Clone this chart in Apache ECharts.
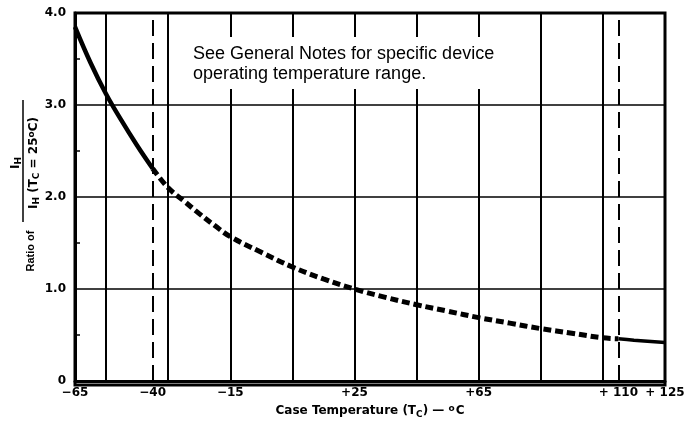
<!DOCTYPE html>
<html>
<head>
<meta charset="utf-8">
<script src="https://cdn.jsdelivr.net/npm/echarts@6/dist/echarts.min.js"></script>
<style>
  html, body { margin: 0; padding: 0; background: #fff; }
  #chart { width: 697px; height: 424px; }
</style>
</head>
<body>
<div id="chart"></div>
<script>
// Holding current ratio I_H / I_H(25 °C) versus case temperature
const temps  = [-65, -60, -55, -50, -45, -40, -35, -30, -25, -20, -15, -5, 5, 15, 25, 35, 45, 55, 65, 75, 85, 95, 105, 110, 115, 125];
const ratios = [3.85, 3.46, 3.12, 2.83, 2.56, 2.31, 2.10, 1.96, 1.82, 1.69, 1.57, 1.40, 1.24, 1.11, 1.00, 0.91, 0.83, 0.76, 0.69, 0.63, 0.57, 0.52, 0.47, 0.46, 0.445, 0.42];

// Operating range limits: curve is dashed between these, and they are drawn as dashed verticals
const limitTemps = [-40, 110];

// Vertical grid rules (°C)
const gridTemps = [-55, -35, -15, 5, 25, 45, 65, 85, 105];

// Temperature tick labels shown on the x axis
const xTickValues = [-65, -40, -15, 25, 65, 110, 125];
const xTickTexts  = ['\u221265', '\u221240', '\u221215', '+25', '+65', '+ 110', '+ 125'];

// Ratio axis
const yMin = 0, yMax = 4, yStep = 1;

const noteLines = ['See General Notes for specific device', 'operating temperature range.'];

const points = temps.map((t, i) => [t, ratios[i]]);
const lowPts  = points.filter(p => p[0] <= limitTemps[0]);
const midPts  = points.filter(p => p[0] >= limitTemps[0] && p[0] <= limitTemps[1]);
const highPts = points.filter(p => p[0] >= limitTemps[1]);

const chart = echarts.init(document.getElementById('chart'), null, { renderer: 'canvas' });

const boldFont = 'DejaVu Sans';
const gridL = 75, gridR = 665, gridT = 13, gridB = 385;

chart.setOption({
  animation: false,
  backgroundColor: '#fff',
  grid: { left: gridL, right: 697 - gridR, top: gridT, bottom: 424 - gridB, show: false },
  xAxis: {
    type: 'value', min: -65, max: 125, interval: 5,
    axisLine: { show: true, onZero: false, lineStyle: { color: '#000', width: 3 } },
    axisTick: { show: false },
    splitLine: { show: false },
    axisLabel: {
      color: '#000', fontFamily: boldFont, fontWeight: 'bold', fontSize: 12, margin: 6,
      showMinLabel: true, showMaxLabel: true,
      formatter: v => { const k = xTickValues.indexOf(v); return k >= 0 ? xTickTexts[k] : ''; }
    },
    name: 'Case Temperature (T{sub|C}) \u2014 {sup|o}C',
    nameLocation: 'middle', nameGap: 21,
    nameTextStyle: {
      color: '#000', fontFamily: boldFont, fontWeight: 'bold', fontSize: 12, padding: [0, 0, 0, 0],
      rich: {
        sub: { fontFamily: boldFont, fontWeight: 'bold', fontSize: 9, color: '#000', padding: [7, 0, 0, 0] },
        sup: { fontFamily: boldFont, fontWeight: 'bold', fontSize: 9, color: '#000', padding: [0, 1, 5, 0] }
      }
    }
  },
  yAxis: {
    type: 'value', min: yMin, max: yMax, interval: yStep,
    axisLine: { show: true, onZero: false, lineStyle: { color: '#000', width: 3 } },
    axisTick: { show: true, inside: true, length: 0 },
    minorTick: { show: true, splitNumber: 2, length: 5, lineStyle: { color: '#000', width: 1.5 } },
    splitLine: { show: true, lineStyle: { color: '#000', width: 1.6 } },
    axisLabel: {
      color: '#000', fontFamily: boldFont, fontWeight: 'bold', fontSize: 12, margin: 9,
      formatter: v => v === 0 ? '0' : v.toFixed(1)
    }
  },
  graphic: [
    // frame: top and right edges
    { type: 'rect', silent: true, z: 50,
      shape: { x: gridL, y: gridT, width: gridR - gridL, height: gridB - gridT },
      style: { fill: 'none', stroke: '#000', lineWidth: 3 } },
    // note text on a white patch that interrupts the grid rules
    { type: 'rect', silent: true, z: 60,
      shape: { x: 187, y: 37, width: 314, height: 52 },
      style: { fill: '#fff' } },
    { type: 'text', silent: true, z: 61, left: 193, top: 44,
      style: { text: noteLines.join('\n'), fill: '#000', font: '18px "Liberation Sans", Arial, sans-serif', lineHeight: 20 } },
    // y-axis title: "Ratio of" followed by the fraction I_H / I_H(T_C = 25 °C), read bottom to top
    { type: 'group', silent: true, x: 25, y: 385, rotation: Math.PI / 2, z: 70,
      children: [
        { type: 'text', x: 134, y: 6,
          style: { text: 'Ratio of', fill: '#000', font: 'bold 11px "Liberation Sans", Arial, sans-serif',
                   textAlign: 'center', textVerticalAlign: 'middle' } },
        { type: 'line', shape: { x1: 163, y1: -2, x2: 285, y2: -2 },
          style: { stroke: '#000', lineWidth: 1.5 } },
        { type: 'text', x: 222, y: -9,
          style: { text: 'I{s|H}', fill: '#000', font: 'bold 12px "DejaVu Sans"',
                   textAlign: 'center', textVerticalAlign: 'middle',
                   rich: { s: { font: 'bold 9px "DejaVu Sans"', fill: '#000', padding: [6, 0, 0, 0] } } } },
        { type: 'text', x: 222, y: 9,
          style: { text: 'I{s|H} (T{s|C} = 25{p|o}C)', fill: '#000', font: 'bold 12px "DejaVu Sans"',
                   textAlign: 'center', textVerticalAlign: 'middle',
                   rich: { s: { font: 'bold 9px "DejaVu Sans"', fill: '#000', padding: [6, 0, 0, 0] },
                           p: { font: 'bold 9px "DejaVu Sans"', fill: '#000', padding: [0, 0, 5, 0] } } } }
      ] }
  ],
  series: [
    { // vertical grid rules
      type: 'line', data: [], silent: true, z: 1,
      markLine: {
        silent: true, symbol: 'none', animation: false,
        label: { show: false },
        lineStyle: { color: '#000', width: 2, type: 'solid' },
        data: gridTemps.map(t => ({ xAxis: t }))
      }
    },
    { // operating-range limits
      type: 'line', data: [], silent: true, z: 1,
      markLine: {
        silent: true, symbol: 'none', animation: false,
        label: { show: false },
        lineStyle: { color: '#000', width: 2, type: [16, 7] },
        data: limitTemps.map(t => ({ xAxis: t }))
      }
    },
    { type: 'line', data: lowPts, smooth: 0.4, showSymbol: false, z: 5,
      lineStyle: { color: '#000', width: 4.5 } },
    { type: 'line', data: midPts, smooth: 0.4, showSymbol: false, z: 5,
      lineStyle: { color: '#000', width: 5, type: [8, 4] } },
    { type: 'line', data: highPts, smooth: 0.4, showSymbol: false, z: 5,
      lineStyle: { color: '#000', width: 3.5 } }
  ]
});
</script>
</body>
</html>
